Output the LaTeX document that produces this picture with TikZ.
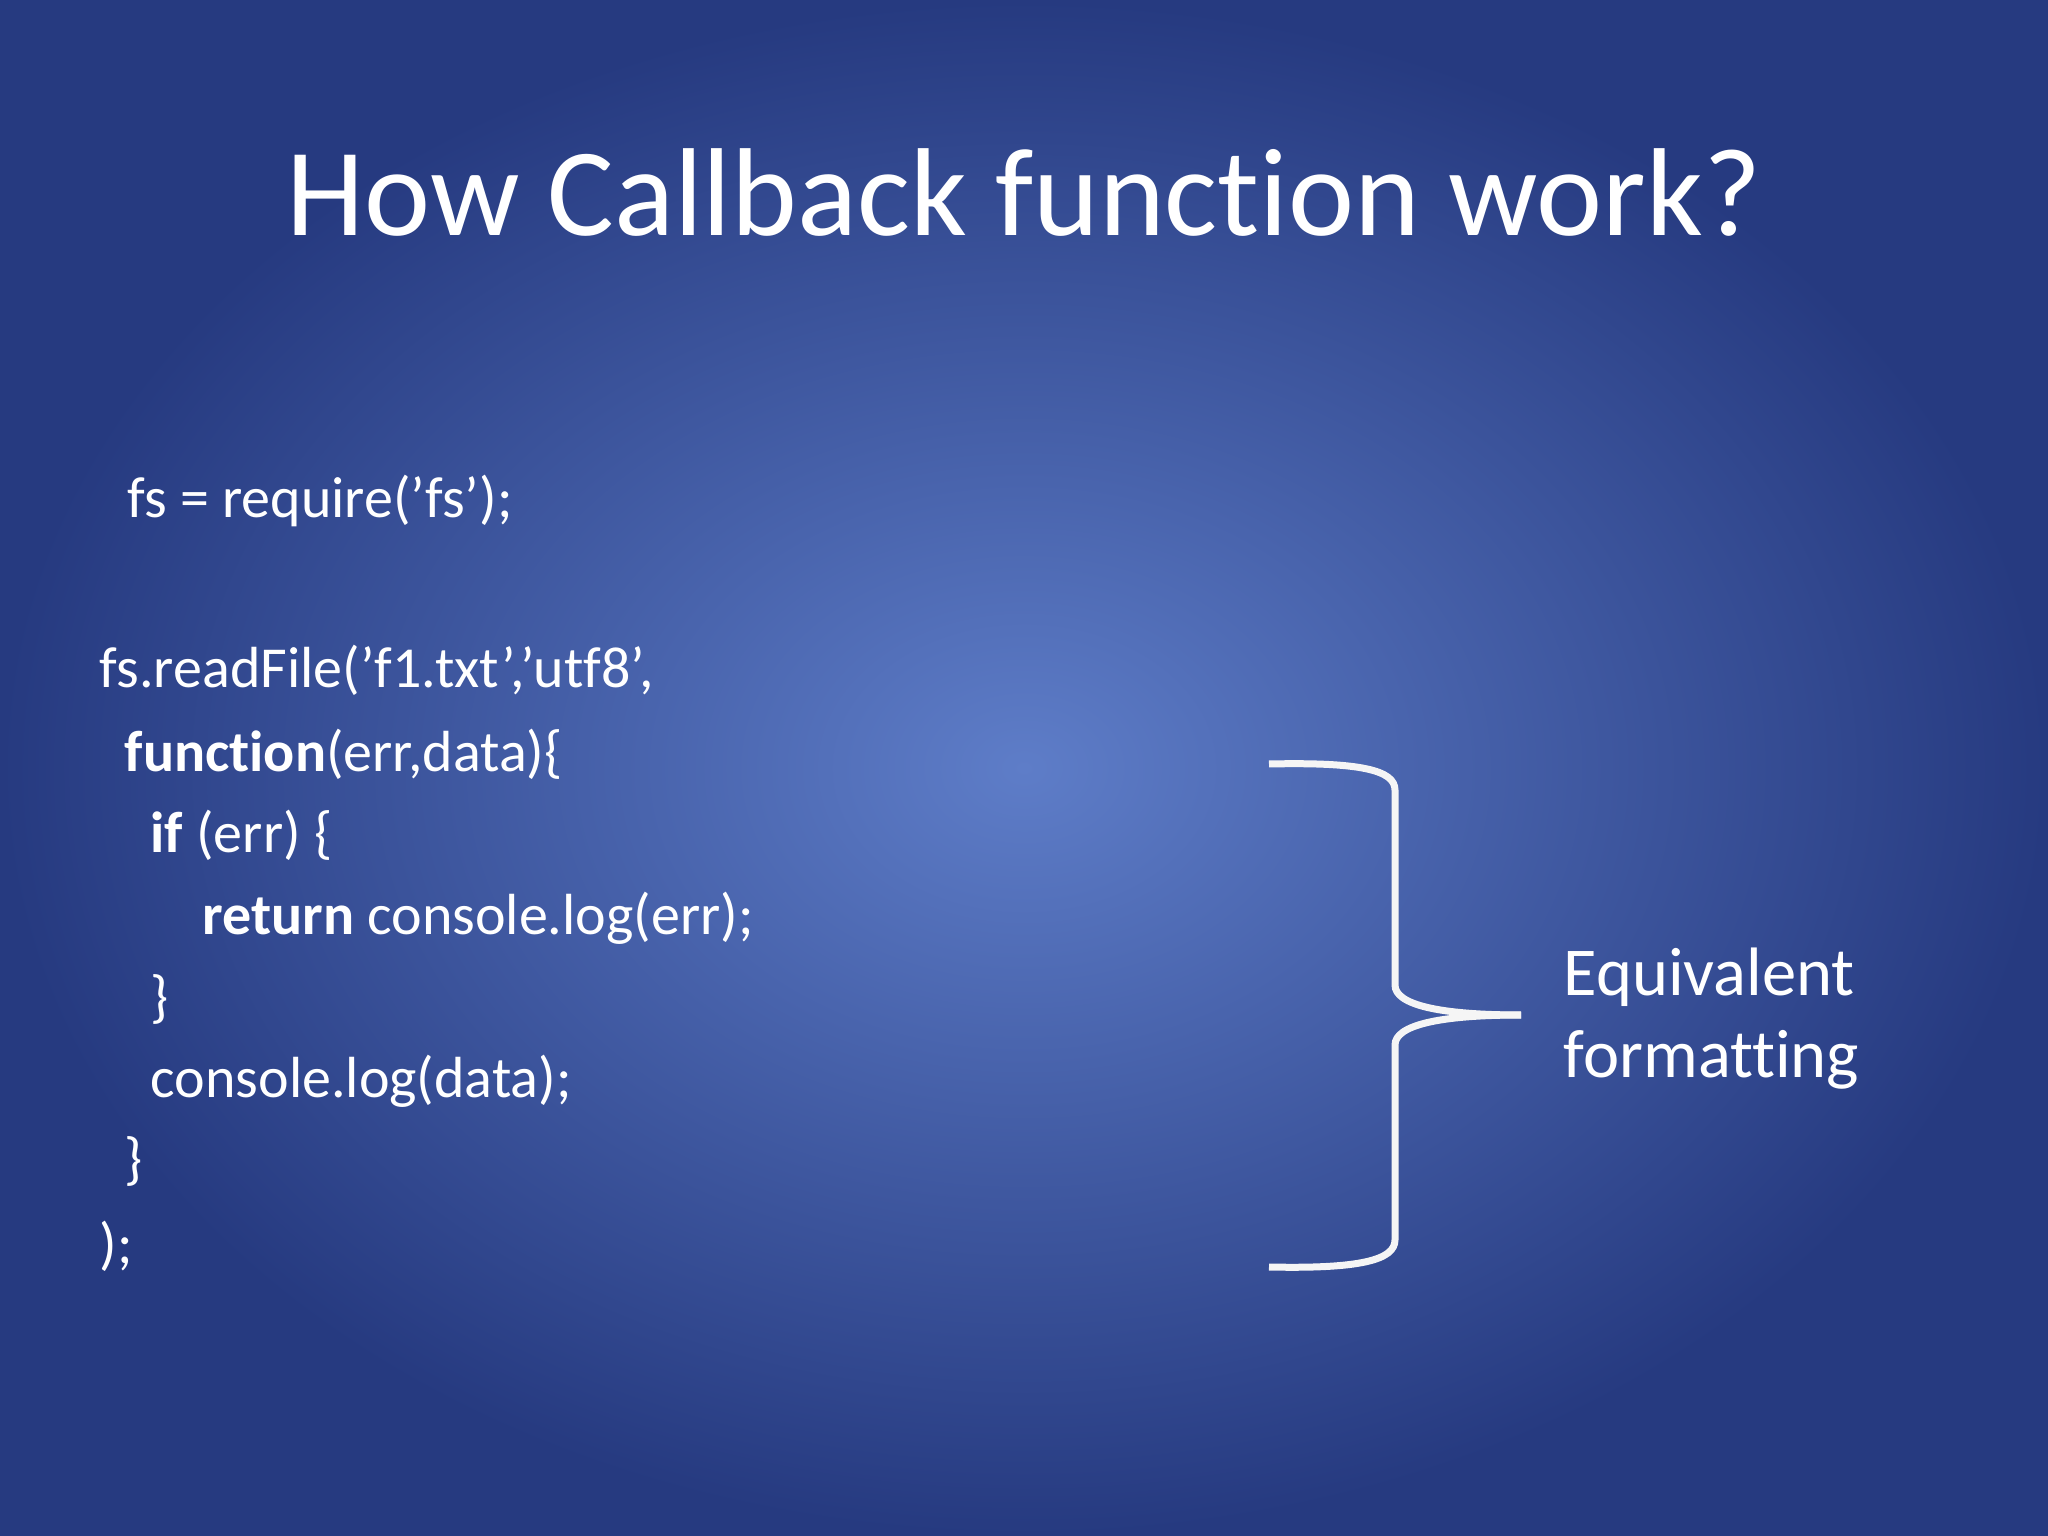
\documentclass[tikz,border=0pt]{standalone}
\usepackage{fontspec}
\setmainfont[Ligatures={NoCommon}]{Carlito}
\usepackage{tikz}
\usetikzlibrary {positioning}
\definecolor{bgouter}{HTML}{263A80}
\definecolor{bginner}{HTML}{5E7DC8}
\newcommand{\q}{\symbol{39}}
\tikzset{
         codeline/.style={anchor=base west, inner sep=0pt, text=white, font=\fontsize{16.5}{20}\selectfont},
         titletext/.style={text=white, font=\fontsize{35.6}{44}\selectfont},
         notetext/.style={anchor=base west, inner sep=0pt, text=white, font=\fontsize{19.5}{24}\selectfont},
         brace/.style={draw=white!92!gray, line width=0.7mm, line join=round},
}
\begin{document}
\begin{tikzpicture}
    % Hintergrund
    \useasboundingbox (0,0) rectangle (20.48,-15.36);
    \shade[inner color=bginner, outer color=bgouter] (0,0) rectangle (20.48,-15.36);

    % Titel
    \node[titletext] (title) at (10.24,-1.93) {How Callback function work?};

    % Code
    \node[codeline] (l1) at (1.27,-5.18) {fs = require(\q fs\q);};
    \node[codeline] (l2) at (0.99,-6.88) {fs.readFile(\q f1.txt\q,\q utf8\q,};
    \node[codeline] (l3) at (1.24,-7.71) {\textbf{function}(err,data)\{};
    \node[codeline] (l4) at (1.50,-8.52) {\textbf{if} (err) \{};
    \node[codeline] (l5) at (2.02,-9.34) {\textbf{return} console.log(err);};
    \node[codeline] (l6) at (1.50,-10.16) {\}};
    \node[codeline] (l7) at (1.50,-10.97) {console.log(data);};
    \node[codeline] (l8) at (1.24,-11.78) {\}};
    \node[codeline] (l9) at (0.99,-12.63) {);};

    % Klammer
    \coordinate (btop) at (12.69,-7.64);
    \coordinate (btip) at (15.21,-10.15);
    \coordinate (bbot) at (12.69,-12.67);
    \draw[brace] (btop) .. controls (13.6,-7.62) and (13.95,-7.70) .. (13.95,-7.90)
                 -- (13.95,-9.85) .. controls (13.95,-10.05) and (14.4,-10.15) .. (btip);
    \draw[brace] (btip) .. controls (14.4,-10.15) and (13.95,-10.25) .. (13.95,-10.45)
                 -- (13.95,-12.40) .. controls (13.95,-12.60) and (13.6,-12.69) .. (bbot);

    % Text
    \node[notetext] (eq) at (15.63,-9.95) {Equivalent};
    \node[notetext] (fmt) at (15.63,-10.77) {formatting};
\end{tikzpicture}
\end{document}
